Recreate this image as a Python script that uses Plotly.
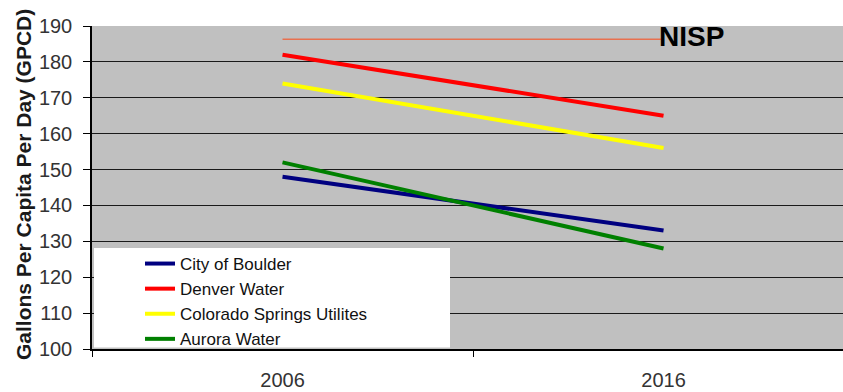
import plotly.graph_objects as go

years = ["2006", "2016"]
series_names = ["City of Boulder", "Denver Water", "Colorado Springs Utilites", "Aurora Water"]
boulder = [148, 133]
denver = [182, 165]
colorado_springs = [174, 156]
aurora = [152, 128]
nisp = [186.3, 186.3]
series_values = [boulder, denver, colorado_springs, aurora]
series_colors = ["#000080", "#FF0000", "#FFFF00", "#008000"]
y_ticks = [100, 110, 120, 130, 140, 150, 160, 170, 180, 190]

FONT = "Arial, Liberation Sans, sans-serif"

fig = go.Figure()

fig.add_trace(go.Scatter(x=years, y=nisp, mode="lines", showlegend=False,
                         line=dict(color="#E8704F", width=1.5), hoverinfo="skip"))

for name, vals, col in zip(series_names, series_values, series_colors):
    fig.add_trace(go.Scatter(x=years, y=vals, mode="lines", name=name,
                             line=dict(color=col, width=4)))

W, H = 843, 392
L, R, T, B = 92, 0, 26, 43
pw = W - L - R
ph = H - T - B

# white legend panel
fig.add_shape(type="rect", xref="paper", yref="paper", layer="above",
              x0=2 / pw, x1=(450 - L) / pw, y0=1.5 / ph, y1=(349 - 248) / ph,
              fillcolor="white", line=dict(width=0))

fig.add_annotation(x=len(years) - 1, y=nisp[-1], text="<b>NISP</b>", showarrow=False,
                   xanchor="left", yanchor="middle", xshift=-6, yshift=3,
                   bgcolor="rgba(0,0,0,0)", borderpad=0,
                   font=dict(family=FONT, size=28, color="black"))

fig.add_annotation(xref="paper", yref="paper", x=(23 - L) / pw, y=(349 - 185) / ph,
                   text="<b>Gallons Per Capita Per Day (GPCD)</b>", textangle=-90,
                   showarrow=False, xanchor="center", yanchor="middle",
                   font=dict(family=FONT, size=21, color="#1a1a1a"))

fig.update_layout(
    width=W, height=H,
    margin=dict(l=L, r=R, t=T, b=B),
    paper_bgcolor="white",
    plot_bgcolor="#C0C0C0",
    font=dict(family=FONT, color="#222222"),
    legend=dict(x=(140 - L) / pw, y=(349 - 246) / ph, xanchor="left", yanchor="top",
                bgcolor="rgba(0,0,0,0)", borderwidth=0,
                font=dict(family=FONT, size=17, color="#111111"),
                itemwidth=30, tracegroupgap=0),
    xaxis=dict(type="category", range=[-0.5, 1.471], tickson="boundaries",
               ticks="outside", ticklen=6, tickcolor="black", showgrid=False,
               showline=True, linecolor="black", linewidth=1.5,
               tickfont=dict(size=20, color="#333333"), ticklabelstandoff=12,
               fixedrange=True),
    yaxis=dict(range=[100, 190], tickvals=y_ticks, ticks="outside", ticklen=7,
               tickcolor="black", showline=True, linecolor="black", linewidth=1.5,
               showgrid=False, zeroline=False,
               minor=dict(tickvals=y_ticks[1:-1], showgrid=True, gridcolor="#1a1a1a",
                          gridwidth=1.3, ticks=""),
               tickfont=dict(size=20, color="#333333"), ticklabelstandoff=7,
               fixedrange=True),
)

fig.write_html("out.html", config={"displayModeBar": False},
               post_script="document.body.style.margin='0';document.body.style.padding='0';")
